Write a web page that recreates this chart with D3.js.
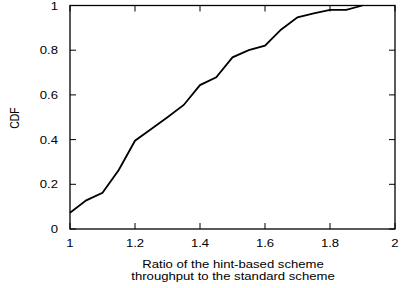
<!DOCTYPE html>
<html>
<head>
<meta charset="utf-8">
<script src="https://cdn.jsdelivr.net/npm/d3@7"></script>
<style>
  body { margin: 0; background: #fff; }
  text { font-family: "Liberation Sans", Arial, sans-serif; fill: #000; }
</style>
</head>
<body>
<div id="chart"></div>
<script>
// ratio values (x) and cumulative fraction (y)
const ratio = [1, 1.05, 1.1, 1.15, 1.2, 1.25, 1.3, 1.35, 1.4, 1.45, 1.5, 1.55, 1.6, 1.65, 1.7, 1.75, 1.8, 1.85, 1.9]
const cdf   = [0.073, 0.128, 0.162, 0.264, 0.395, 0.447, 0.5, 0.555, 0.644, 0.679, 0.768, 0.80, 0.82, 0.893, 0.947, 0.965, 0.98, 0.98, 1.0]
const xTicks = [1, 1.2, 1.4, 1.6, 1.8, 2]
const yTicks = [0, 0.2, 0.4, 0.6, 0.8, 1]

var width = 401,
    height = 288

var svg = d3.select("#chart").append("svg")
    .attr("width", width)
    .attr("height", height)

const pLeft = 70, pRight = 395, pTop = 5.5, pBottom = 229

const x = d3.scaleLinear().domain([1, 2]).range([pLeft, pRight])
const y = d3.scaleLinear().domain([0, 1]).range([pBottom, pTop])

const tick = 6
const sx = 1.25  // text in the original is a bit wide

// ticks, inward, mirrored on top/right
const axes = svg.append("g").attr("stroke", "#000").attr("stroke-width", 1)
xTicks.forEach(function(d){
    axes.append("line").attr("x1", x(d)).attr("x2", x(d)).attr("y1", pBottom).attr("y2", pBottom - tick)
    axes.append("line").attr("x1", x(d)).attr("x2", x(d)).attr("y1", pTop).attr("y2", pTop + tick)
})
yTicks.forEach(function(d){
    axes.append("line").attr("x1", pLeft).attr("x2", pLeft + tick).attr("y1", y(d)).attr("y2", y(d))
    axes.append("line").attr("x1", pRight).attr("x2", pRight - tick).attr("y1", y(d)).attr("y2", y(d))
})

svg.append("rect")
    .attr("x", pLeft).attr("y", pTop)
    .attr("width", pRight - pLeft).attr("height", pBottom - pTop)
    .attr("fill", "none")
    .attr("stroke", "#000")
    .attr("stroke-width", 1.3)

svg.selectAll(".xl")
    .data(xTicks)
    .enter()
    .append("text")
    .attr("transform", d => "translate(" + x(d) + ",247) scale(" + sx + ",1)")
    .attr("text-anchor", "middle")
    .attr("font-size", 10.5)
    .text(d => d)

svg.selectAll(".yl")
    .data(yTicks)
    .enter()
    .append("text")
    .attr("transform", d => "translate(58," + (y(d) + 4) + ") scale(" + sx + ",1)")
    .attr("text-anchor", "end")
    .attr("font-size", 10.5)
    .text(d => d)

svg.append("text")
    .attr("transform", "translate(233,268) scale(" + sx + ",1)")
    .attr("text-anchor", "middle")
    .attr("font-size", 10.5)
    .text("Ratio of the hint-based scheme")
svg.append("text")
    .attr("transform", "translate(233,280) scale(" + sx + ",1)")
    .attr("text-anchor", "middle")
    .attr("font-size", 10.5)
    .text("throughput to the standard scheme")

svg.append("text")
    .attr("transform", "translate(18.5,118) rotate(-90) scale(1,1.15)")
    .attr("text-anchor", "middle")
    .attr("font-size", 10.5)
    .text("CDF")

const line = d3.line()
    .x((d, i) => x(ratio[i]))
    .y(d => y(d))

svg.append("path")
    .attr("d", line(cdf))
    .attr("fill", "none")
    .attr("stroke", "#000")
    .attr("stroke-width", 1.8)
    .attr("stroke-linejoin", "miter")
</script>
</body>
</html>
